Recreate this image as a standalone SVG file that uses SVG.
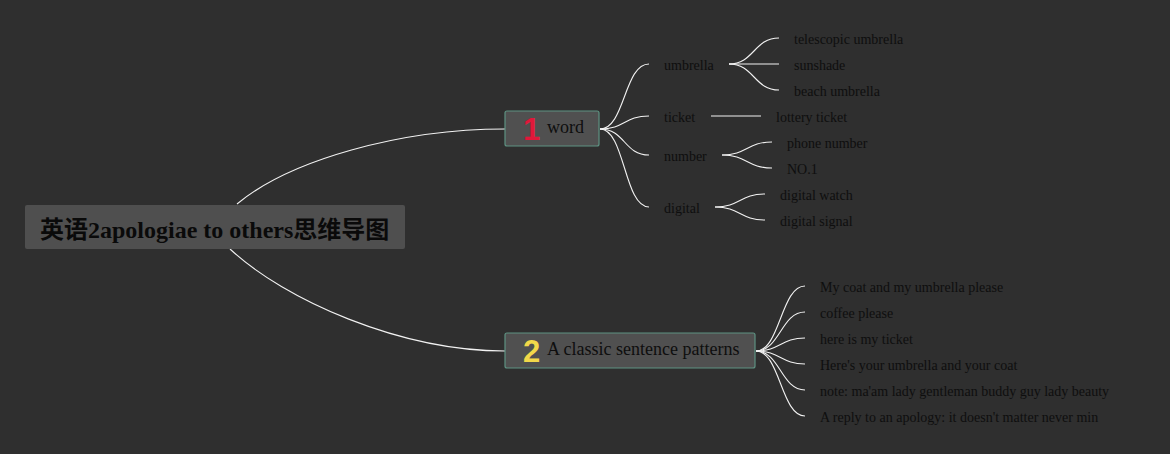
<svg xmlns="http://www.w3.org/2000/svg" width="1170" height="454" viewBox="0 0 1170 454">
<style>
.bg{fill:#2f2f2f}
.root{fill:#4f4f4f}
.box{fill:#505050;stroke:#5e9282;stroke-width:1.2}
.c{fill:none;stroke:#f2f2f2;stroke-width:1.1}
.t{font-family:"Liberation Serif",serif;font-size:14px;fill:#0e0e0e}
.m{font-family:"Liberation Serif",serif;font-size:18px;fill:#0e0e0e}
.r{font-family:"Liberation Serif","Noto Sans CJK SC",serif;font-size:24px;font-weight:bold;fill:#0a0a0a}
.n{font-family:"Liberation Sans",sans-serif;font-size:31px;font-weight:bold}
</style>
<rect class="bg" x="0" y="0" width="1170" height="454"/>
<g id="connectors">
<path class="c" d="M237,204 C290,160 400,129 505,129"/>
<path class="c" d="M230,249 C285,300 400,351 505,351"/>
<path class="c" d="M600,129 C625,129 624,64 649,64"/>
<path class="c" d="M600,129 C625,129 624,116 649,116"/>
<path class="c" d="M600,129 C625,129 624,155 649,155"/>
<path class="c" d="M600,129 C625,129 624,207 649,207"/>
<path class="c" d="M729,64 C754,64 754,38 779,38"/>
<path class="c" d="M729,64 L779,64"/>
<path class="c" d="M729,64 C754,64 754,90 779,90"/>
<path class="c" d="M711,116 L761,116"/>
<path class="c" d="M722,155 C747,155 747,142 772,142"/>
<path class="c" d="M722,155 C747,155 747,168 772,168"/>
<path class="c" d="M715,207 C740,207 740,194 765,194"/>
<path class="c" d="M715,207 C740,207 740,220 765,220"/>
<path class="c" d="M756,351 C780,351 781,286 805,286"/>
<path class="c" d="M756,351 C780,351 781,312 805,312"/>
<path class="c" d="M756,351 C780,351 781,338 805,338"/>
<path class="c" d="M756,351 C780,351 781,364 805,364"/>
<path class="c" d="M756,351 C780,351 781,390 805,390"/>
<path class="c" d="M756,351 C780,351 781,416 805,416"/>
</g>
<g id="root">
<rect class="root" x="25" y="205" width="380" height="44" rx="2"/>
<text class="r" x="40" y="238">英语2apologiae to others思维导图</text>
</g>
<g id="word">
<rect class="box" x="505" y="111" width="94" height="35" rx="2"/>
<text class="n" x="523" y="140" fill="#e0183a">1</text>
<text class="m" x="547" y="133">word</text>
</g>
<g id="sentence">
<rect class="box" x="505" y="333" width="250" height="35" rx="2"/>
<text class="n" x="523" y="362" fill="#f2d84a">2</text>
<text class="m" x="547" y="355">A classic sentence patterns</text>
</g>
<g id="umbrella"><text class="t" x="664" y="70">umbrella</text></g>
<g id="telescopic"><text class="t" x="794" y="44">telescopic umbrella</text></g>
<g id="sunshade"><text class="t" x="794" y="70">sunshade</text></g>
<g id="beach"><text class="t" x="794" y="96">beach umbrella</text></g>
<g id="ticket"><text class="t" x="664" y="122">ticket</text></g>
<g id="lottery"><text class="t" x="776" y="122">lottery ticket</text></g>
<g id="number"><text class="t" x="664" y="161">number</text></g>
<g id="phone"><text class="t" x="787" y="148">phone number</text></g>
<g id="no1"><text class="t" x="787" y="174">NO.1</text></g>
<g id="digital"><text class="t" x="664" y="213">digital</text></g>
<g id="watch"><text class="t" x="780" y="200">digital watch</text></g>
<g id="signal"><text class="t" x="780" y="226">digital signal</text></g>
<g id="s1"><text class="t" x="820" y="292">My coat and my umbrella please</text></g>
<g id="s2"><text class="t" x="820" y="318">coffee please</text></g>
<g id="s3"><text class="t" x="820" y="344">here is my ticket</text></g>
<g id="s4"><text class="t" x="820" y="370">Here's your umbrella and your coat</text></g>
<g id="s5"><text class="t" x="820" y="396">note: ma'am lady gentleman buddy guy lady beauty</text></g>
<g id="s6"><text class="t" x="820" y="422">A reply to an apology: it doesn't matter never min</text></g>
</svg>
